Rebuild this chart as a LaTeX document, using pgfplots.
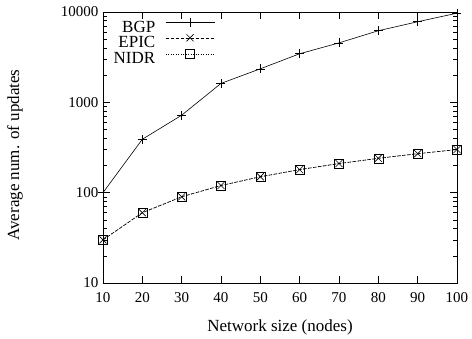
\documentclass[border=0pt]{standalone}
\usepackage{fontspec}
\setmainfont{Liberation Serif}
\usepackage{pgfplots}
\pgfplotsset{compat=1.18}
\begin{document}
\begin{tikzpicture}
\begin{axis}[
  scale only axis,
  width=354pt, height=271pt,
  ymode=log,
  xmin=10, xmax=100, ymin=10, ymax=10000,
  xtick={10,20,...,100},
  ytick={10,100,1000,10000},
  yticklabels={10,100,1000,10000},
  /pgf/number format/assume math mode=true,
  tick align=inside,
  major tick length=7pt, minor tick length=4pt,
  tick style={black, line width=0.5pt},
  axis line style={line width=0.7pt},
  xlabel={Network size (nodes)},
  ylabel={Average num. of updates},
  ticklabel style={font=\fontsize{15}{17}\selectfont},
  xticklabel style={yshift=-6pt},
  yticklabel style={xshift=-1pt},
  every axis x label/.style={at={(axis description cs:0.5,0)}, anchor=base, yshift=-49pt, font=\fontsize{17}{19}\selectfont},
  every axis y label/.style={at={(axis description cs:0,0.472)}, rotate=90, anchor=center, yshift=88pt, font=\fontsize{17}{19}\selectfont},
  legend plot pos=right,
  legend cell align=right,
  legend style={draw=none, fill=none, font=\fontsize{17}{19}\selectfont, inner sep=0pt,
    nodes={inner sep=0pt}, row sep=0.5pt, column sep=10pt,
    at={(rel axis cs:0,1)}, anchor=north west, xshift=10.5pt, yshift=-5.7pt},
  legend image code/.code={\draw[mark repeat=2,mark phase=2,#1] plot coordinates {(0pt,5pt) (24.5pt,5pt) (49pt,5pt)};},
  every axis plot/.append style={black, line width=0.6pt},
]
\addplot[solid, mark=+, mark size=4.5pt, mark options={solid}] coordinates {
(10,100) (20,390) (30,720) (40,1620) (50,2350) (60,3450) (70,4550) (80,6200) (90,7800) (100,9700)};
\addlegendentry{BGP}
\addplot[dash pattern=on 3pt off 2pt, mark=x, mark size=5pt, mark options={solid}] coordinates {
(10,30) (20,60) (30,90) (40,120) (50,150) (60,180) (70,210) (80,240) (90,270) (100,300)};
\addlegendentry{EPIC}
\addplot[dash pattern=on 1pt off 1.5pt, mark=square, mark size=4.5pt, mark options={solid}] coordinates {
(10,30) (20,60) (30,90) (40,120) (50,150) (60,180) (70,210) (80,240) (90,270) (100,300)};
\addlegendentry{NIDR}
\coordinate (sw) at (rel axis cs:0,0);
\end{axis}
\path (sw) ++(-103pt,-56pt) rectangle ++(472pt,339pt);
\end{tikzpicture}
\end{document}
